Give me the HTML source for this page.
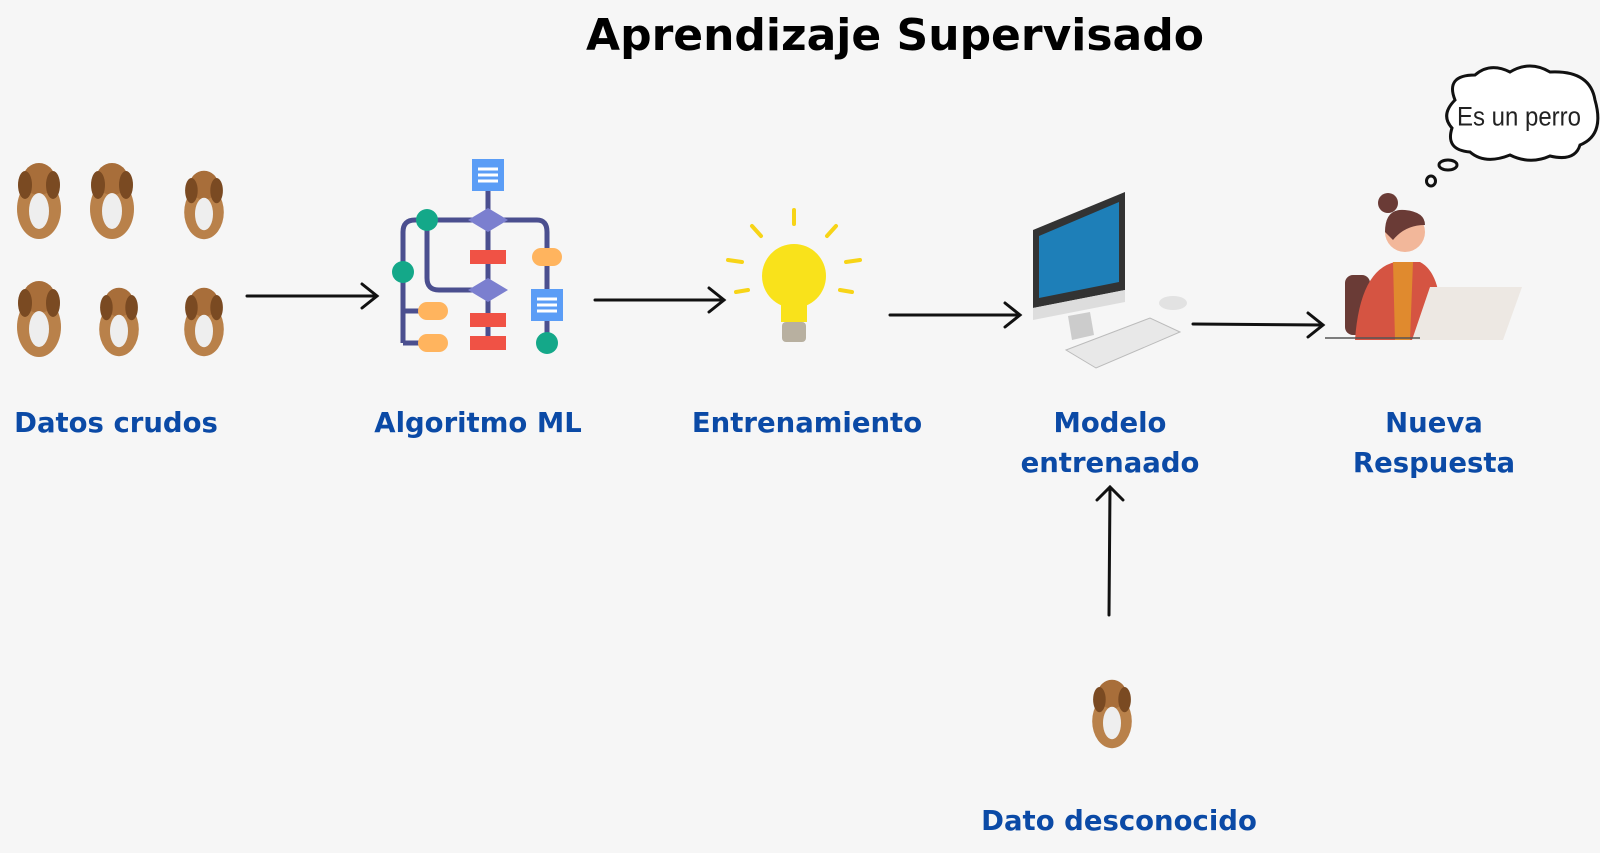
<!DOCTYPE html>
<html><head><meta charset="utf-8"><style>
body{margin:0;width:1600px;height:853px;background:#f6f6f6;overflow:hidden;position:relative;font-family:"DejaVu Sans","Liberation Sans",sans-serif}
.t{position:absolute;font-weight:bold;color:#0b4aa6;font-size:27.5px;text-align:center;line-height:40px;white-space:nowrap;transform:translateX(-50%)}
h1{position:absolute;left:895px;top:10px;transform:translateX(-50%);margin:0;font-size:44px;color:#000;white-space:nowrap}
svg{position:absolute;left:0;top:0}
</style></head><body>
<h1>Aprendizaje Supervisado</h1>
<div class="t" style="left:116px;top:403px">Datos crudos</div>
<div class="t" style="left:478px;top:403px">Algoritmo ML</div>
<div class="t" style="left:807px;top:403px">Entrenamiento</div>
<div class="t" style="left:1110px;top:403px">Modelo<br>entrenaado</div>
<div class="t" style="left:1434px;top:403px">Nueva<br>Respuesta</div>
<div class="t" style="left:1119px;top:801px">Dato desconocido</div>
<svg width="1600" height="853" viewBox="0 0 1600 853">
<defs>
<g id="dog"><ellipse cx="0" cy="8" rx="22" ry="30" fill="#b9814a"/><circle cx="0" cy="-22" r="16" fill="#a86e3a"/><ellipse cx="-14" cy="-16" rx="7" ry="14" fill="#7a4a22"/><ellipse cx="14" cy="-16" rx="7" ry="14" fill="#7a4a22"/><ellipse cx="0" cy="10" rx="10" ry="18" fill="#eee"/></g>
</defs>
<g fill="none" stroke="#111" stroke-width="3" stroke-linecap="round">
<path d="M247 296 L377 296 M362 284 L377 296 L362 308"/>
<path d="M595 300 L724 300 M709 288 L724 300 L709 312"/>
<path d="M890 315 L1020 315 M1005 303 L1020 315 L1005 327"/>
<path d="M1193 324 L1323 325 M1308 313 L1323 325 L1308 337"/>
<path d="M1109 615 L1110 487 M1097 500 L1110 487 L1123 500"/>
</g>
<use href="#dog" transform="translate(39,201)"/>
<use href="#dog" transform="translate(112,201)"/>
<use href="#dog" transform="translate(204,205) scale(0.9)"/>
<use href="#dog" transform="translate(39,319)"/>
<use href="#dog" transform="translate(119,322) scale(0.9)"/>
<use href="#dog" transform="translate(204,322) scale(0.9)"/>
<use href="#dog" transform="translate(1112,714) scale(0.9)"/>
<g stroke="#4b4f8f" stroke-width="5" fill="none">
<path d="M488 190 V343"/>
<path d="M403 343 V232 Q403 220 415 220 H537 Q547 220 547 232 V343"/>
<path d="M427 220 V278 Q427 290 439 290 H488"/>
<path d="M403 311 H433 M403 343 H433"/>
</g>
<rect x="472" y="159" width="32" height="32" fill="#5b9df6"/>
<g stroke="#fff" stroke-width="3"><path d="M478 169H498M478 175H498M478 181H498"/></g>
<rect x="531" y="289" width="32" height="32" fill="#5b9df6"/>
<g stroke="#fff" stroke-width="3"><path d="M537 299H557M537 305H557M537 311H557"/></g>
<polygon points="468,220 488,208 508,220 488,232" fill="#7b7fcf"/>
<polygon points="468,290 488,278 508,290 488,302" fill="#7b7fcf"/>
<g fill="#f05245"><rect x="470" y="250" width="36" height="14"/><rect x="470" y="313" width="36" height="14"/><rect x="470" y="336" width="36" height="14"/></g>
<g fill="#ffb45e"><rect x="532" y="248" width="30" height="18" rx="9"/><rect x="418" y="302" width="30" height="18" rx="9"/><rect x="418" y="334" width="30" height="18" rx="9"/></g>
<g fill="#14a889"><circle cx="427" cy="220" r="11"/><circle cx="403" cy="272" r="11"/><circle cx="547" cy="343" r="11"/></g>
<g stroke="#f7d417" stroke-width="4" stroke-linecap="round">
<path d="M794 210V224M752 226L761 236M836 226L827 236M728 260L742 262M860 260L846 262M736 292L748 290M852 292L840 290"/></g>
<circle cx="794" cy="276" r="32" fill="#f9e21b"/>
<rect x="781" y="300" width="26" height="22" fill="#f9e21b"/>
<rect x="782" y="322" width="24" height="20" rx="4" fill="#b8b0a0"/>
<polygon points="1033,230 1125,192 1125,290 1033,308" fill="#333"/>
<polygon points="1039,236 1119,202 1119,282 1039,298" fill="#1e7fb8"/>
<polygon points="1033,308 1125,290 1125,302 1033,320" fill="#ddd"/>
<polygon points="1068,316 1090,312 1094,335 1072,340" fill="#ccc"/>
<polygon points="1066,350 1150,318 1180,332 1096,368" fill="#e8e8e8" stroke="#bbb"/>
<ellipse cx="1173" cy="303" rx="14" ry="7" fill="#e2e2e2"/>
<rect x="1345" y="275" width="25" height="60" rx="8" fill="#6a3b36"/>
<path d="M1355 340 Q1360 270 1395 262 L1420 262 Q1445 275 1440 340 Z" fill="#d55442"/>
<path d="M1393 262 L1413 262 L1410 340 L1395 340 Z" fill="#e08a2e"/>
<circle cx="1405" cy="232" r="20" fill="#f2b79a"/>
<path d="M1385 232 Q1385 208 1405 210 Q1425 212 1425 225 Q1405 225 1393 240 Z" fill="#6a3b36"/>
<circle cx="1388" cy="203" r="10" fill="#6a3b36"/>
<polygon points="1430,287 1522,287 1503,340 1412,340" fill="#ede8e3"/>
<path d="M1325 338 H1420" stroke="#555" stroke-width="1.5"/>
<path d="M1455 100 Q1445 75 1475 75 Q1490 62 1510 72 Q1530 60 1550 72 Q1590 70 1595 100 Q1605 135 1580 145 Q1575 162 1550 156 Q1530 165 1510 155 Q1485 165 1470 152 Q1445 150 1452 128 Q1440 115 1455 100 Z" fill="#fff" stroke="#111" stroke-width="3"/>
<ellipse cx="1448" cy="165" rx="9" ry="5" fill="none" stroke="#111" stroke-width="3"/>
<ellipse cx="1431" cy="181" rx="4.5" ry="5" fill="none" stroke="#111" stroke-width="3"/>
<text x="1519" y="125" font-family="Liberation Sans Narrow, Liberation Sans, sans-serif" font-size="24" text-anchor="middle" fill="#222" transform="scale(1,1.1) translate(0,-11)">Es un perro</text>
</svg>
</body></html>
